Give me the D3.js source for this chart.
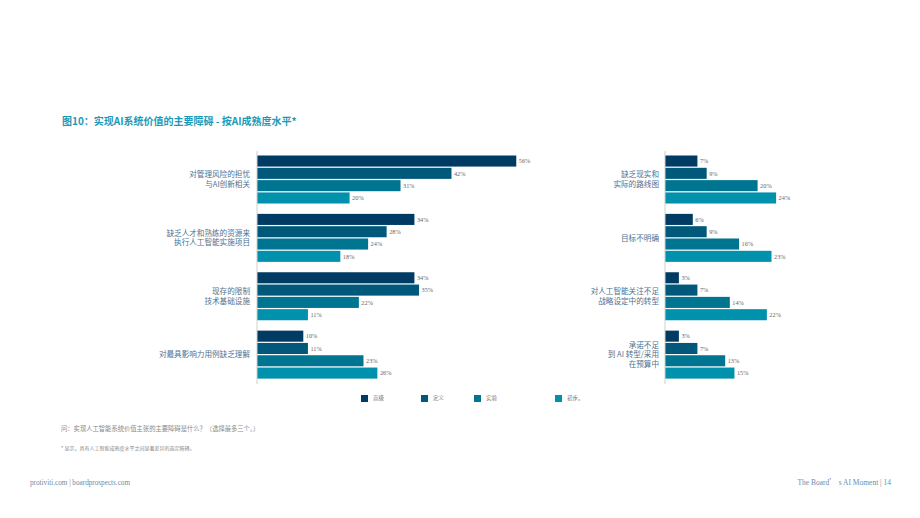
<!DOCTYPE html>
<html>
<head>
<meta charset="utf-8">
<script src="https://cdn.jsdelivr.net/npm/d3@7"></script>
<style>
  body { margin: 0; background: #fff; }
  svg { display: block; }
</style>
</head>
<body>
<svg id="chart"></svg>
<script>
// data
const series = ['高级', '定义', '实验', '初步'];
const leftCats = ['对管理风险的担忧\n与AI创新相关', '缺乏人才和熟练的资源来\n执行人工智能实施项目', '现存的限制\n技术基础设施', '对最具影响力用例缺乏理解'];
const rightCats = ['缺乏现实和\n实际的路线图', '目标不明确', '对人工智能关注不足\n战略设定中的转型', '承诺不足\n到 AI 转型/采用\n在预算中'];
const leftValues = {
    '高级': [56, 34, 34, 10],
    '定义': [42, 28, 35, 11],
    '实验': [31, 24, 22, 23],
    '初步': [20, 18, 11, 26]
};
const rightValues = {
    '高级': [7, 6, 3, 3],
    '定义': [9, 9, 7, 7],
    '实验': [20, 16, 14, 13],
    '初步': [24, 23, 22, 15]
};

const W = 920, H = 518;
const colors = d3.scaleOrdinal().domain(series).range(['#003b64', '#00587a', '#007592', '#0091ad']);
const labelColor = '#4f7090';
const cjk = '"Noto Sans CJK SC", "Noto Sans", sans-serif';
const serif = '"Liberation Serif", "DejaVu Serif", serif';

const svg = d3.select('#chart').attr('width', W).attr('height', H);

// title
svg.append('text')
    .attr('x', 62).attr('y', 125)
    .style('font-family', cjk)
    .style('font-weight', 'bold')
    .style('font-size', '10px')
    .attr('fill', '#1a9ab6')
    .text('图10：实现AI系统价值的主要障碍 - 按AI成熟度水平*');

function panel(x0, labelRight, cats, values) {
    const g = svg.append('g');
    const perc = 4.63;
    const xscale = d3.scaleLinear().domain([0, 60]).range([x0, x0 + 60 * perc]);
    const y0 = d3.scaleBand().domain(cats).range([150.5, 384]);
    const y1 = d3.scaleBand().domain(series).range([5, 53]).paddingInner(0.1);

    const groups = g.selectAll('g.grp')
        .data(cats)
        .join('g')
        .attr('class', 'grp')
        .attr('transform', d => `translate(0, ${y0(d)})`);

    const bars = groups.selectAll('g.bar')
        .data((c, i) => series.map(s => ({ s: s, v: values[s][i] })))
        .join('g')
        .attr('class', 'bar');

    bars.append('rect')
        .attr('x', xscale(0))
        .attr('y', d => y1(d.s))
        .attr('width', d => xscale(d.v) - xscale(0))
        .attr('height', y1.bandwidth())
        .attr('fill', d => colors(d.s));

    bars.append('text')
        .attr('x', d => xscale(d.v) + 2.5)
        .attr('y', d => y1(d.s) + y1.bandwidth() / 2)
        .attr('dy', '0.35em')
        .style('font-family', serif)
        .style('font-size', '6.3px')
        .attr('fill', '#666')
        .text(d => d.v + '%');

    // category labels
    groups.each(function(c) {
        const lines = c.split('\n');
        const lh = 9.6;
        const t = d3.select(this).append('text')
            .attr('text-anchor', 'end')
            .style('font-family', cjk)
            .style('font-size', '7.6px')
            .attr('fill', labelColor);
        lines.forEach((ln, i) => {
            t.append('tspan')
                .attr('x', labelRight)
                .attr('y', 29 + (i - (lines.length - 1) / 2) * lh)
                .attr('dy', '0.35em')
                .text(ln);
        });
    });

    // axis line
    g.append('line')
        .attr('x1', xscale(0)).attr('x2', xscale(0))
        .attr('y1', 151).attr('y2', 384)
        .attr('stroke', '#cfcfcf')
        .attr('stroke-width', 1);
}

panel(257, 250, leftCats, leftValues);
panel(665, 659, rightCats, rightValues);

// legend
const legendX = [361, 421, 474, 555];
const legend = svg.append('g').selectAll('g')
    .data(series)
    .join('g')
    .attr('transform', (d, i) => `translate(${legendX[i]}, 395)`);
legend.append('rect')
    .attr('width', 7).attr('height', 7)
    .attr('fill', d => colors(d));
legend.append('text')
    .attr('x', 12).attr('y', 3.5).attr('dy', '0.35em')
    .style('font-family', cjk)
    .style('font-size', '5.5px')
    .attr('fill', '#777')
    .text((d, i) => i == 3 ? d + '。' : d);

// notes
svg.append('text')
    .attr('x', 61).attr('y', 431)
    .style('font-family', cjk)
    .style('font-size', '6.3px')
    .attr('fill', '#888')
    .text('问：实现人工智能系统价值主张的主要障碍是什么？（选择最多三个。）');
svg.append('text')
    .attr('x', 61).attr('y', 450)
    .style('font-family', cjk)
    .style('font-size', '5px')
    .attr('fill', '#888')
    .text('* 显示，具有人工智能成熟度水平之间显著差异的选定障碍。');

// footer
svg.append('text')
    .attr('x', 30).attr('y', 485)
    .style('font-family', serif)
    .style('font-size', '7.2px')
    .attr('fill', '#6d8ba6')
    .text('protiviti.com | boardprospects.com');
const foot = svg.append('text')
    .attr('x', 891).attr('y', 485)
    .attr('text-anchor', 'end')
    .style('font-family', serif)
    .style('font-size', '7.5px')
    .attr('fill', '#6d8ba6');
foot.append('tspan').text('The Board');
foot.append('tspan').style('font-family', cjk).text('’');
foot.append('tspan').text(' s AI Moment | 14');
</script>
</body>
</html>
